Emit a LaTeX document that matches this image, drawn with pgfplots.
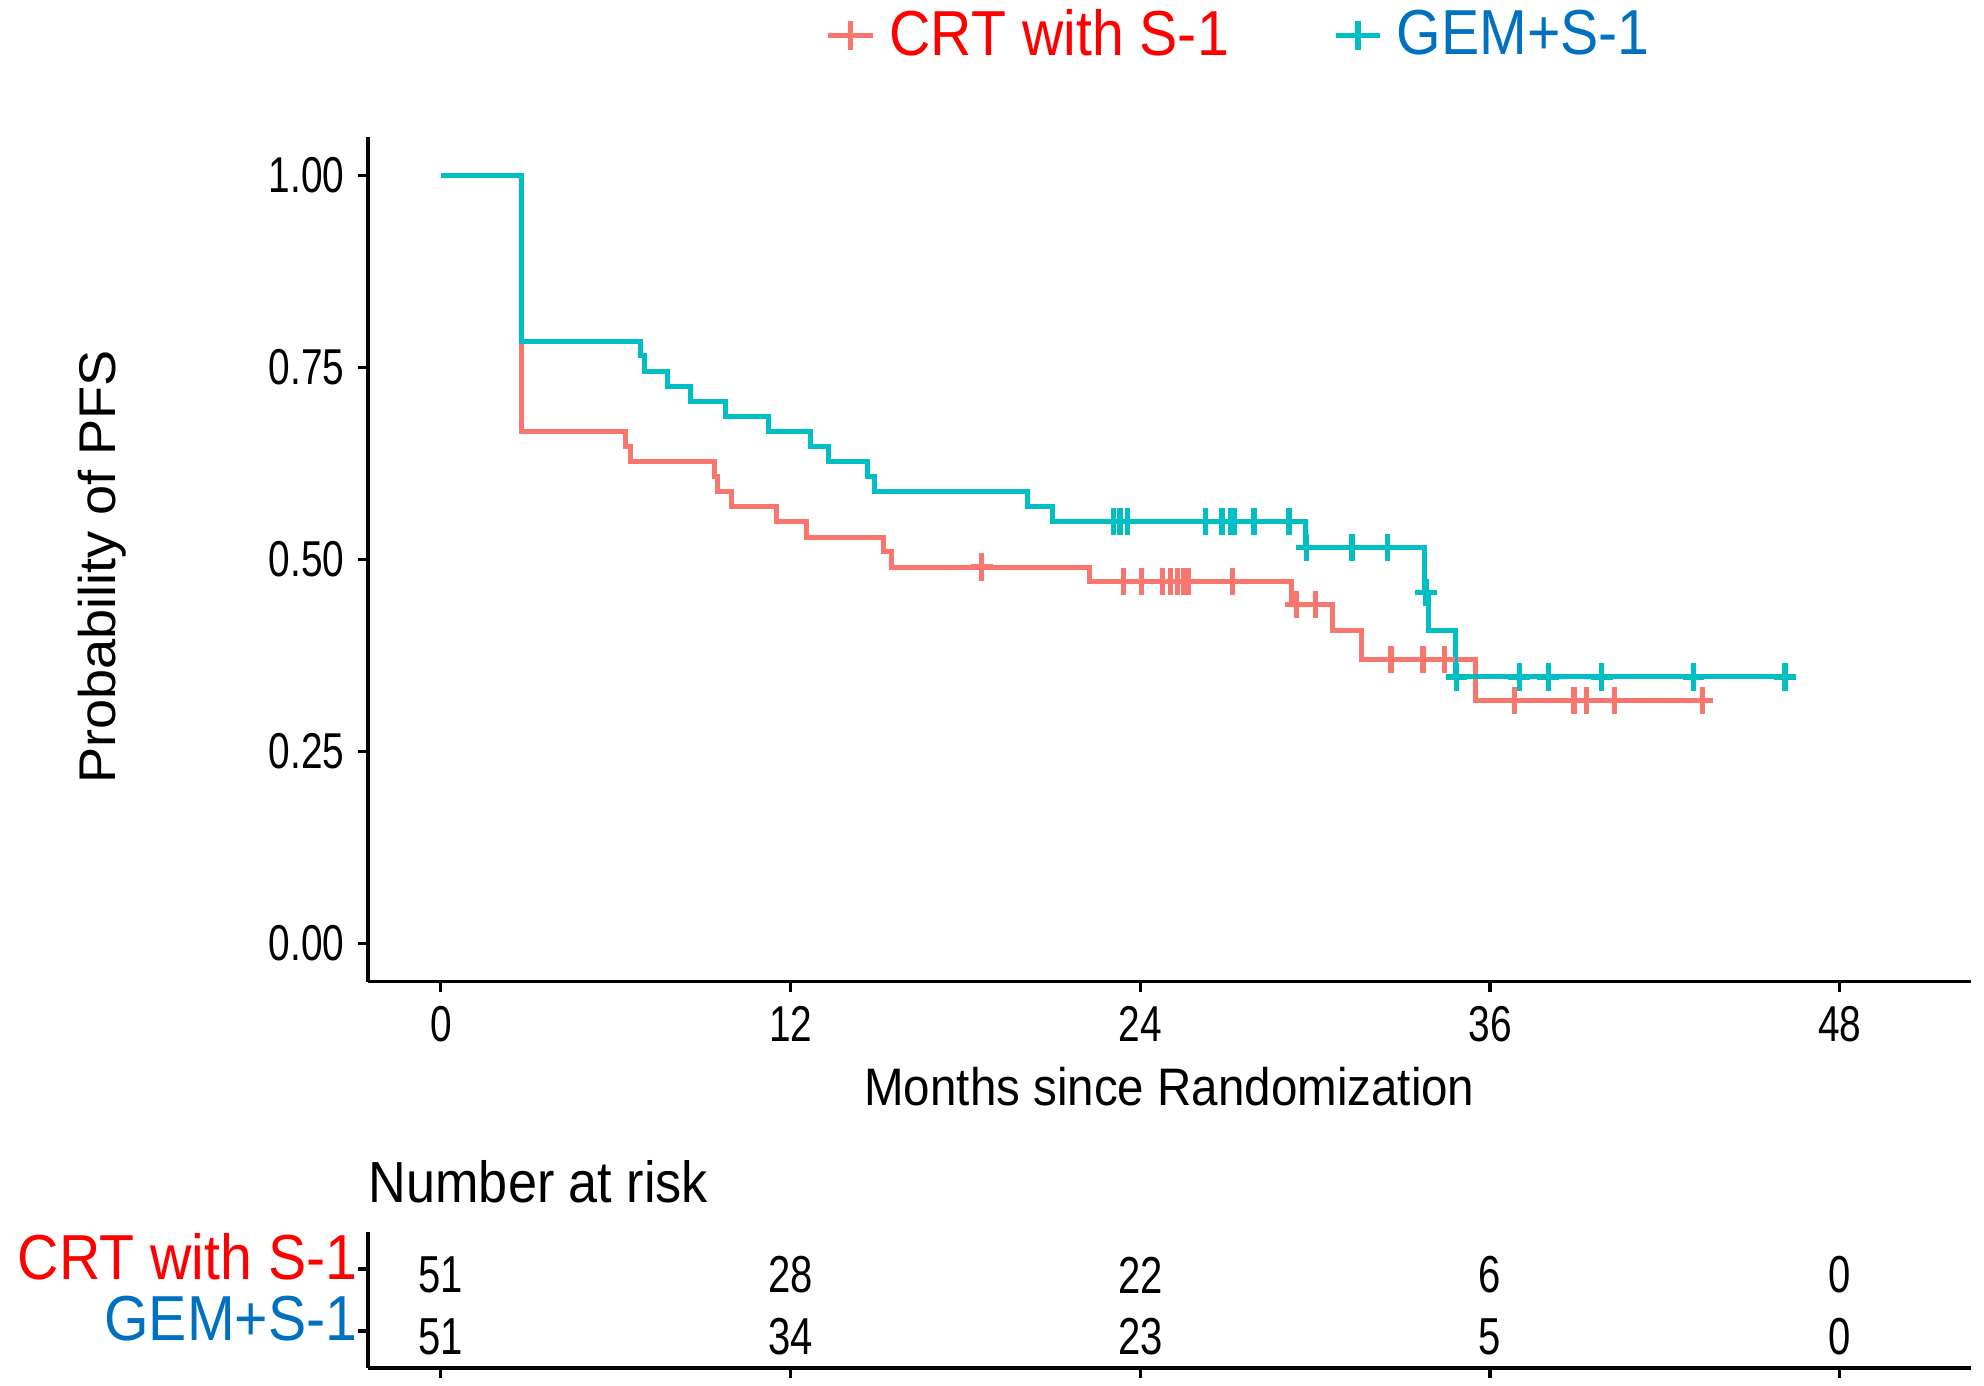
\documentclass[border=0pt]{standalone}
\usepackage{fontspec}
\setmainfont{Liberation Sans}[FakeStretch=0.9]
\newfontfamily\narrowfont{Liberation Sans}[FakeStretch=0.77]
\newfontfamily\widefont{Liberation Sans}[FakeStretch=1.05]
\usepackage{pgfplots}
\pgfplotsset{compat=1.18}
\definecolor{crt}{HTML}{F8766D}
\definecolor{gem}{HTML}{00BFC4}
\definecolor{crttext}{HTML}{FF0000}
\definecolor{gemtext}{HTML}{0070C0}

% survival curves, months vs probability
\pgfplotstableread{
t s
0 1.000
2.76 0.667
6.34 0.647
6.50 0.627
9.38 0.608
9.50 0.588
9.97 0.569
11.50 0.549
12.53 0.529
15.20 0.510
15.45 0.490
22.25 0.471
29.20 0.441
30.60 0.408
31.58 0.370
35.50 0.316
43.50 0.316
}\crtcurve
\pgfplotstableread{
t s
0 1.000
2.76 0.784
6.85 0.765
7.00 0.745
7.78 0.725
8.55 0.706
9.75 0.686
11.23 0.667
12.68 0.647
13.30 0.627
14.65 0.608
14.88 0.588
20.14 0.569
20.99 0.549
29.67 0.515
33.75 0.457
33.90 0.408
34.80 0.347
46.30 0.347
}\gemcurve
% censoring marks
\pgfplotstableread{
t s
18.56 0.490
23.42 0.471
24.05 0.471
24.76 0.471
25.03 0.471
25.27 0.471
25.50 0.471
25.64 0.471
27.16 0.471
29.35 0.441
30.00 0.441
32.60 0.370
33.70 0.370
34.43 0.370
36.85 0.316
38.88 0.316
39.30 0.316
40.27 0.316
43.29 0.316
}\crtcens
\pgfplotstableread{
t s
23.08 0.549
23.30 0.549
23.55 0.549
26.24 0.549
26.80 0.549
27.08 0.549
27.22 0.549
27.90 0.549
29.10 0.549
29.70 0.515
31.26 0.515
32.48 0.515
33.80 0.457
34.85 0.347
37.00 0.347
38.00 0.347
39.83 0.347
42.98 0.347
46.12 0.347
}\gemcens

\pgfplotsset{
  kmframe/.style={
    scale only axis,
    width=400.75pt,
    xmin=-2.5, xmax=52.5,
    axis x line*=bottom, axis y line*=left,
    axis line style={black, line width=0.8pt},
    tick align=outside,
    major tick length=2.5pt,
    tick style={black, line width=0.8pt},
    xtick={0,12,24,36,48},
  },
}

\begin{document}
\begin{tikzpicture}
\path[use as bounding box] (0,0) rectangle (496pt,346.25pt);

\begin{axis}[
  kmframe,
  at={(92pt,100.8pt)}, anchor=south west,
  height=211.2pt,
  ymin=-0.05, ymax=1.05,
  ytick={0,0.25,0.5,0.75,1},
  yticklabels={0.00,0.25,0.50,0.75,1.00},
  xticklabels={0,12,24,36,48},
  ticklabel style={font=\fontsize{12.6}{14}\narrowfont},
  xticklabel style={anchor=base, inner sep=0pt, yshift=-12.4pt},
  yticklabel style={anchor=east, inner sep=0pt, xshift=-3.2pt},
  xlabel={Months since Randomization},
  xlabel style={at={(axis description cs:0.5,0)}, anchor=base, inner sep=0pt,
    yshift=-30.8pt, font=\fontsize{13.2}{15}\selectfont},
  ylabel={Probability of PFS},
  ylabel style={at={(axis description cs:-0.166,0.491)}, anchor=center,
    inner sep=0pt, font=\fontsize{12.9}{15}\widefont},
  legend columns=2,
  legend style={at={(axis description cs:0.285,1.12)}, anchor=west,
    draw=none, fill=none, inner sep=0pt,
    font=\fontsize{15.9}{18}\selectfont,
    /tikz/every odd column/.append style={column sep=1.5pt},
    /tikz/every even column/.append style={column sep=24pt}},
  legend image code/.code={
    \draw[mark repeat=2, mark phase=2] plot coordinates {(0pt,0pt) (5.6pt,0pt) (11.2pt,0pt)};},
]
\addlegendimage{crt, line width=1.3pt, mark=+, mark size=3.6pt}
\addlegendentry{\textcolor{crttext}{CRT with S-1}}
\addlegendimage{gem, line width=1.3pt, mark=+, mark size=3.6pt}
\addlegendentry{\textcolor{gemtext}{GEM+S-1}}

\addplot[crt, line width=1.25pt, const plot, forget plot] table[x=t, y=s] {\crtcurve};
\addplot[gem, line width=1.25pt, const plot, forget plot] table[x=t, y=s] {\gemcurve};
\addplot[crt, only marks, mark=+, mark size=3.4pt,
  mark options={line width=1.3pt, xscale=0.8}, forget plot] table[x=t, y=s] {\crtcens};
\addplot[gem, only marks, mark=+, mark size=3.4pt,
  mark options={line width=1.3pt, xscale=0.8}, forget plot] table[x=t, y=s] {\gemcens};
\end{axis}

\begin{axis}[
  kmframe,
  at={(92pt,4.25pt)}, anchor=south west,
  height=34pt,
  ymin=0.4, ymax=2.6,
  xticklabels={},
  ytick={1,2},
  yticklabels={\textcolor{gemtext}{GEM+S-1},\textcolor{crttext}{CRT with S-1}},
  yticklabel style={anchor=east, inner sep=0pt, xshift=0pt, yshift=3pt,
    font=\fontsize{15.9}{18}\selectfont},
  title={Number at risk},
  title style={at={(axis description cs:0,1)}, anchor=base west, inner sep=0pt,
    yshift=1.5pt, font=\fontsize{14.5}{17}\selectfont},
]
\addplot[draw=none, mark=none, nodes near coords, point meta=explicit symbolic,
  nodes near coords style={anchor=center, inner sep=0pt, yshift=-1.5pt,
    font=\fontsize{13}{15}\narrowfont, text=black}]
  table[meta=n] {
x y n
0 2 51
12 2 28
24 2 22
36 2 6
48 2 0
0 1 51
12 1 34
24 1 23
36 1 5
48 1 0
};
\end{axis}
\end{tikzpicture}
\end{document}
